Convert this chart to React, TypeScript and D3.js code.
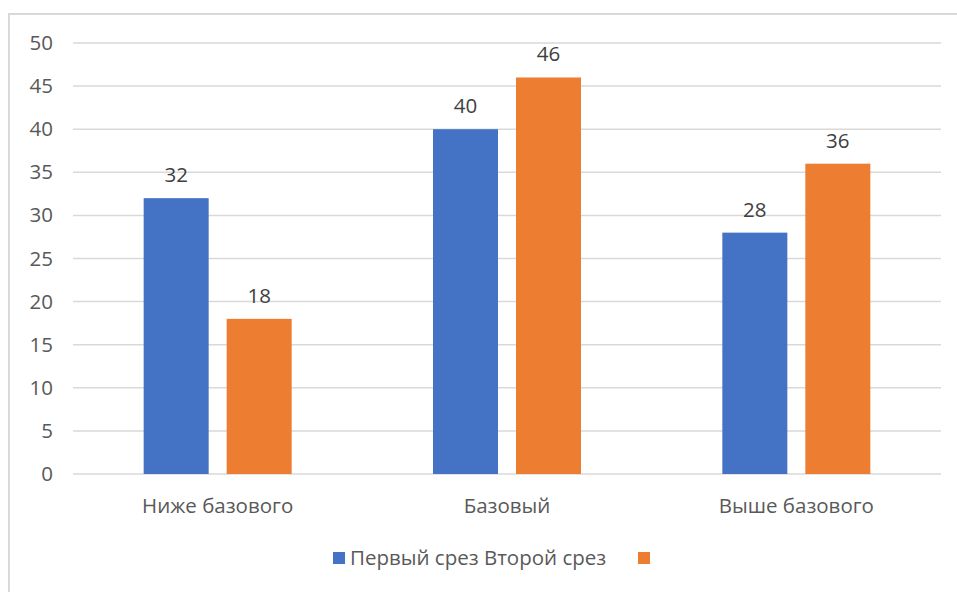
import React from "react";
import * as d3 from "d3";

const categories = ["Ниже базового", "Базовый", "Выше базового"];
const seriesNames = ["Первый срез", "Второй срез"];
const firstSlice = [32, 40, 28];
const secondSlice = [18, 46, 36];
const yTicks = [0, 5, 10, 15, 20, 25, 30, 35, 40, 45, 50];
const colors = ["#4472C4", "#ED7D31"];

const W = 957;
const H = 592;
const FONT = "Open Sans, Noto Sans, sans-serif";

export default function App() {
  const x = d3.scaleBand<string>().domain(categories).range([73, 941]).paddingInner(0).paddingOuter(0);
  const y = d3.scaleLinear().domain([0, 50]).range([474, 43]);
  const barW = 65;
  const gap = 18;
  const series = [firstSlice, secondSlice];

  return (
    <svg width={W} height={H} style={{ position: "absolute", left: 0, top: 0, background: "#fff" }}>
      <rect x={9} y={14} width={W + 10} height={H} fill="#fff" stroke="#d9d9d9" strokeWidth={2} />
      {yTicks.map((t) => (
        <g key={t}>
          <line x1={73} x2={941} y1={y(t)} y2={y(t)} stroke="#d9d9d9" strokeWidth={1.5} />
          <text x={53} y={y(t) + 7} textAnchor="end" fontSize={20.5} fill="#595959" fontFamily={FONT}>
            {t}
          </text>
        </g>
      ))}
      {categories.map((c, i) => {
        const cx = (x(c) as number) + x.bandwidth() / 2;
        return (
          <g key={c}>
            {series.map((s, j) => {
              const bx = cx - gap / 2 - barW + j * (barW + gap);
              return (
                <g key={j}>
                  <rect x={bx} y={y(s[i])} width={barW} height={y(0) - y(s[i])} fill={colors[j]} />
                  <text x={bx + barW / 2} y={y(s[i]) - 16} textAnchor="middle" fontSize={20.5} fill="#404040" fontFamily={FONT}>
                    {s[i]}
                  </text>
                </g>
              );
            })}
            <text x={cx} y={513} textAnchor="middle" fontSize={20.5} fill="#595959" fontFamily={FONT}>
              {c}
            </text>
          </g>
        );
      })}
      <rect x={333} y={552} width={12} height={12} fill={colors[0]} />
      <text x={350} y={565} fontSize={20.5} fill="#595959" fontFamily={FONT}>
        {seriesNames[0] + " " + seriesNames[1]}
      </text>
      <rect x={638} y={552} width={12} height={12} fill={colors[1]} />
    </svg>
  );
}
